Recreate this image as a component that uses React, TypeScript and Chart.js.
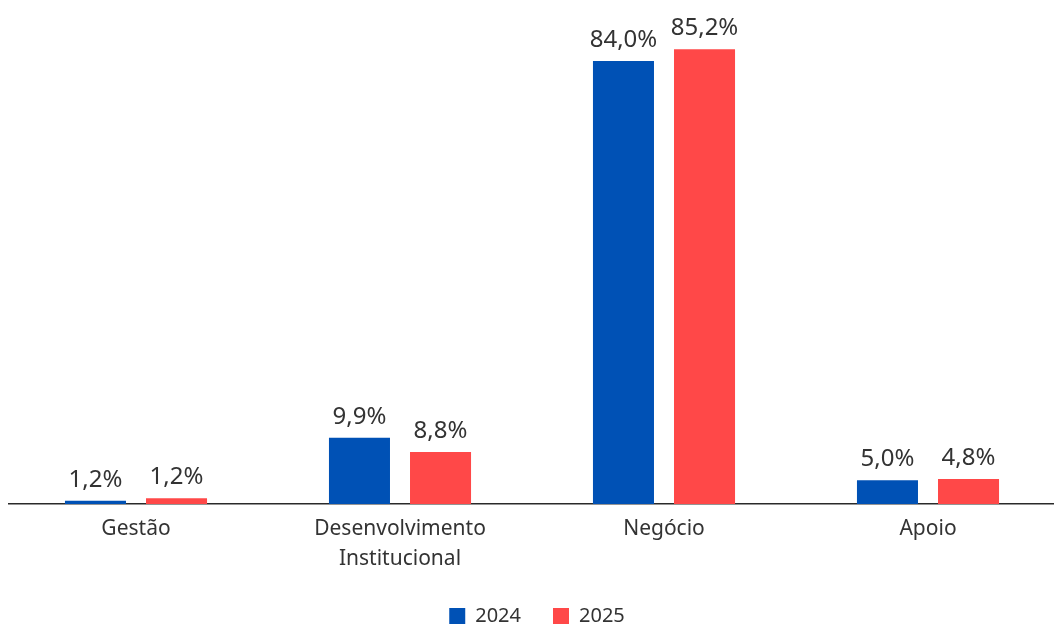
import React, { useEffect, useRef } from 'react';
import { Chart, registerables } from 'chart.js';

Chart.register(...registerables);

const categories: (string | string[])[] = ['Gestão', ['Desenvolvimento', 'Institucional'], 'Negócio', 'Apoio'];
const seriesNames = ['2024', '2025'];
const bars2024 = [0.6, 12.5, 83.6, 4.5];
const bars2025 = [1.1, 9.8, 85.8, 4.7];
const labels2024 = ['1,2%', '9,9%', '84,0%', '5,0%'];
const labels2025 = ['1,2%', '8,8%', '85,2%', '4,8%'];
const seriesColors = ['#0051B5', '#FF4848'];

const FONT = "'Noto Sans', sans-serif";
const TEXT = '#333333';

const valueLabelPlugin = {
  id: 'valueLabels',
  afterDatasetsDraw(chart: any) {
    const ctx = chart.ctx;
    const allLabels = [labels2024, labels2025];
    ctx.save();
    ctx.font = `24px ${FONT}`;
    ctx.fillStyle = TEXT;
    ctx.textAlign = 'center';
    ctx.textBaseline = 'alphabetic';
    chart.data.datasets.forEach((_ds: any, di: number) => {
      const meta = chart.getDatasetMeta(di);
      meta.data.forEach((el: any, i: number) => {
        ctx.fillText(allLabels[di][i], el.x, el.y - 14);
      });
    });
    ctx.restore();
  },
};

const legendShiftPlugin = {
  id: 'legendShift',
  afterLayout(chart: any) {
    if (chart.legend) {
      chart.legend.left += 5;
      chart.legend.right += 5;
    }
  },
};

export default function App() {
  const ref = useRef<HTMLCanvasElement>(null);
  useEffect(() => {
    if (!ref.current) return;
    const chart = new Chart(ref.current, {
      type: 'bar',
      data: {
        labels: categories as any,
        datasets: [
          {
            label: seriesNames[0],
            data: bars2024,
            backgroundColor: seriesColors[0],
            barPercentage: 0.753,
            categoryPercentage: 0.614,
          },
          {
            label: seriesNames[1],
            data: bars2025,
            backgroundColor: seriesColors[1],
            barPercentage: 0.753,
            categoryPercentage: 0.614,
          },
        ],
      },
      options: {
        responsive: false,
        devicePixelRatio: 1,
        animation: false,
        layout: { padding: { top: 27, left: 0, right: 0, bottom: 0 } },
        scales: {
          x: {
            grid: { display: false, drawTicks: false },
            border: { display: true, color: '#2a2a2a', width: 1.5 },
            ticks: {
              color: TEXT,
              padding: 10.5,
              font: { family: FONT, size: 21, lineHeight: 1.42 },
              maxRotation: 0,
              autoSkip: false,
            },
            afterFit: (s: any) => {
              s.height = 70;
            },
          },
          y: { display: false, min: 0, max: 90 },
        },
        plugins: {
          legend: {
            position: 'bottom',
            labels: {
              boxWidth: 16,
              boxHeight: 16,
              padding: 32,
              color: TEXT,
              font: { family: FONT, size: 20 },
            },
          },
          tooltip: { enabled: false },
        },
      },
      plugins: [valueLabelPlugin, legendShiftPlugin],
    });
    return () => chart.destroy();
  }, []);

  return (
    <div style={{ position: 'fixed', left: 8, top: 0, width: 1046, height: 626, overflow: 'hidden', background: '#fff' }}>
      <canvas ref={ref} width={1056} height={636} style={{ position: 'absolute', left: -4, top: 0, display: 'block' }} />
    </div>
  );
}
